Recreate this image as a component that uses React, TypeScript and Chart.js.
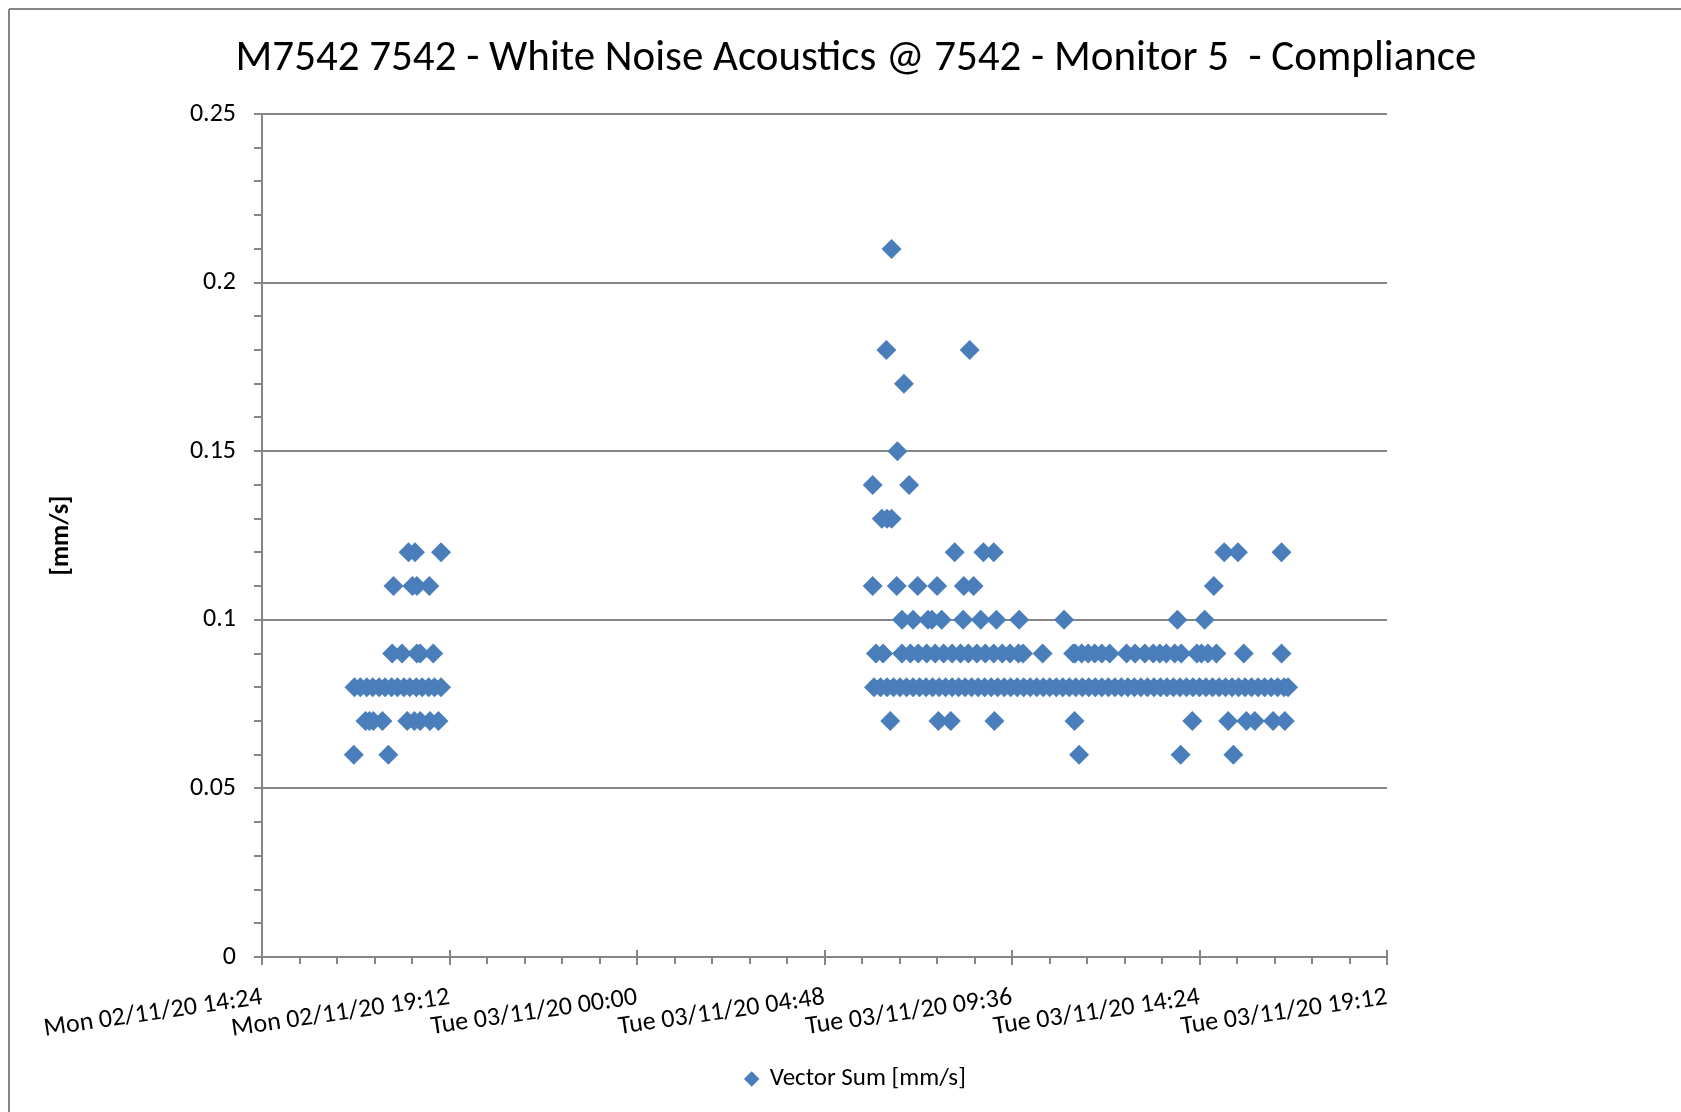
import React, { useEffect, useRef } from "react";
import { Chart, registerables } from "chart.js";

Chart.register(...registerables);

const chartTitle = "M7542 7542 - White Noise Acoustics @ 7542 - Monitor 5  - Compliance";
const seriesLabel = "Vector Sum [mm/s]";
const yAxisTitle = "[mm/s]";

// x axis: hours since Mon 02/11/20 00:00
const xTickValues = [14.4, 19.2, 24, 28.8, 33.6, 38.4, 43.2];
const xTickLabels = [
  "Mon 02/11/20 14:24",
  "Mon 02/11/20 19:12",
  "Tue 03/11/20 00:00",
  "Tue 03/11/20 04:48",
  "Tue 03/11/20 09:36",
  "Tue 03/11/20 14:24",
  "Tue 03/11/20 19:12",
];
const yTickValues = [0, 0.05, 0.1, 0.15, 0.2, 0.25];
const yTickLabels = ["0", "0.05", "0.1", "0.15", "0.2", "0.25"];

// reading times for each vector-sum level
const at006 = ["Mon 16:45", "Mon 17:38", "Tue 11:19", "Tue 13:55", "Tue 15:16"];
const at007 = [
  "Mon 17:03", "Mon 17:09", "Mon 17:15", "Mon 17:29", "Mon 18:07", "Mon 18:18", "Mon 18:27", "Mon 18:42", "Mon 18:55",
  "Tue 06:29", "Tue 07:43", "Tue 08:02", "Tue 09:09", "Tue 11:12", "Tue 14:13", "Tue 15:08",
  "Tue 15:36", "Tue 15:49", "Tue 16:17", "Tue 16:35",
];
const at008 = [
  "Mon 16:46", "Mon 16:55", "Mon 17:05", "Mon 17:14", "Mon 17:24", "Mon 17:33", "Mon 17:43", "Mon 17:52",
  "Mon 18:02", "Mon 18:11", "Mon 18:21", "Mon 18:30", "Mon 18:40", "Mon 18:49", "Mon 18:59",
  "Tue 06:04", "Tue 06:14", "Tue 06:24", "Tue 06:34", "Tue 06:44", "Tue 06:54",
  "Tue 07:04", "Tue 07:14", "Tue 07:24", "Tue 07:34", "Tue 07:44", "Tue 07:54",
  "Tue 08:04", "Tue 08:14", "Tue 08:24", "Tue 08:34", "Tue 08:44", "Tue 08:54",
  "Tue 09:04", "Tue 09:14", "Tue 09:24", "Tue 09:34", "Tue 09:44", "Tue 09:54",
  "Tue 10:04", "Tue 10:14", "Tue 10:24", "Tue 10:34", "Tue 10:44", "Tue 10:54",
  "Tue 11:04", "Tue 11:14", "Tue 11:24", "Tue 11:34", "Tue 11:44", "Tue 11:54",
  "Tue 12:04", "Tue 12:14", "Tue 12:24", "Tue 12:34", "Tue 12:44", "Tue 12:54",
  "Tue 13:04", "Tue 13:14", "Tue 13:24", "Tue 13:34", "Tue 13:44", "Tue 13:54",
  "Tue 14:04", "Tue 14:14", "Tue 14:24", "Tue 14:34", "Tue 14:44", "Tue 14:54",
  "Tue 15:04", "Tue 15:14", "Tue 15:24", "Tue 15:34", "Tue 15:44", "Tue 15:54",
  "Tue 16:04", "Tue 16:14", "Tue 16:24", "Tue 16:34", "Tue 16:40",
];
const at009 = [
  "Mon 17:44", "Mon 17:59", "Mon 18:22", "Mon 18:27", "Mon 18:47",
  "Tue 06:07", "Tue 06:18", "Tue 06:47", "Tue 07:00", "Tue 07:12", "Tue 07:25", "Tue 07:38", "Tue 07:51",
  "Tue 08:04", "Tue 08:17", "Tue 08:29", "Tue 08:42", "Tue 08:55", "Tue 09:08", "Tue 09:21", "Tue 09:33",
  "Tue 09:46", "Tue 09:53", "Tue 10:23", "Tue 11:10", "Tue 11:13", "Tue 11:23", "Tue 11:33", "Tue 11:43",
  "Tue 11:54", "Tue 12:06", "Tue 12:32", "Tue 12:45", "Tue 13:00", "Tue 13:13", "Tue 13:23", "Tue 13:33",
  "Tue 13:46", "Tue 13:56", "Tue 14:20", "Tue 14:27", "Tue 14:37", "Tue 14:50", "Tue 15:32", "Tue 16:30",
];
const at010 = [
  "Tue 06:47", "Tue 07:04", "Tue 07:27", "Tue 07:33", "Tue 07:48", "Tue 08:21", "Tue 08:48",
  "Tue 09:12", "Tue 09:47", "Tue 10:56", "Tue 13:50", "Tue 14:32",
];
const at011 = [
  "Mon 17:46", "Mon 18:15", "Mon 18:22", "Mon 18:41",
  "Tue 06:02", "Tue 06:39", "Tue 07:11", "Tue 07:41", "Tue 08:22", "Tue 08:37", "Tue 14:46",
];
const at012 = [
  "Mon 18:09", "Mon 18:19", "Mon 18:59",
  "Tue 08:08", "Tue 08:52", "Tue 09:08", "Tue 15:02", "Tue 15:23", "Tue 16:30",
];
const at013 = ["Tue 06:16", "Tue 06:24", "Tue 06:31"];
const at014 = ["Tue 06:02", "Tue 06:58"];
const at015 = ["Tue 06:40"];
const at017 = ["Tue 06:50"];
const at018 = ["Tue 06:23", "Tue 08:31"];
const at021 = ["Tue 06:31"];

const levelTable: [number, string[]][] = [
  [0.06, at006], [0.07, at007], [0.08, at008], [0.09, at009], [0.1, at010], [0.11, at011],
  [0.12, at012], [0.13, at013], [0.14, at014], [0.15, at015], [0.17, at017], [0.18, at018], [0.21, at021],
];

function toHours(s: string): number {
  const [day, hm] = s.split(" ");
  const [h, m] = hm.split(":").map(Number);
  return (day === "Tue" ? 24 : 0) + h + m / 60;
}

const FONT = "Carlito, Calibri, Lato, sans-serif";
const AXIS_COLOR = "#868686";
const POINT_COLOR = "#4a7ebb";

const decorPlugin = {
  id: "decor",
  beforeDraw(chart: any) {
    const ctx = chart.ctx;
    ctx.save();
    ctx.strokeStyle = AXIS_COLOR;
    ctx.lineWidth = 2;
    ctx.beginPath();
    ctx.moveTo(9, 9);
    ctx.lineTo(chart.width, 9);
    ctx.moveTo(9, 9);
    ctx.lineTo(9, chart.height);
    ctx.stroke();
    ctx.restore();
  },
  afterDraw(chart: any) {
    const { ctx, chartArea } = chart;
    const xs = chart.scales.x;
    const ys = chart.scales.y;
    ctx.save();
    ctx.strokeStyle = AXIS_COLOR;
    ctx.lineWidth = 2;
    ctx.beginPath();
    const xStep = (xs.max - xs.min) / 30;
    for (let i = 0; i <= 30; i++) {
      const px = Math.round(xs.getPixelForValue(xs.min + i * xStep));
      if (i % 5 === 0) {
        ctx.moveTo(px, chartArea.bottom - 7);
        ctx.lineTo(px, chartArea.bottom + 8);
      } else {
        ctx.moveTo(px, chartArea.bottom);
        ctx.lineTo(px, chartArea.bottom + 7);
      }
    }
    const yStep = (ys.max - ys.min) / 25;
    for (let i = 0; i <= 25; i++) {
      const py = Math.round(ys.getPixelForValue(ys.min + i * yStep));
      ctx.moveTo(chartArea.left - 8, py);
      ctx.lineTo(chartArea.left, py);
    }
    ctx.stroke();
    ctx.restore();
  },
};

export default function App() {
  const ref = useRef<HTMLCanvasElement | null>(null);
  useEffect(() => {
    if (!ref.current) return;
    const data: { x: number; y: number }[] = [];
    for (const [v, times] of levelTable) {
      for (const t of times) data.push({ x: toHours(t), y: v });
    }
    const chart = new Chart(ref.current, {
      type: "scatter",
      data: {
        datasets: [
          {
            label: seriesLabel,
            data,
            xAxisID: "x",
            yAxisID: "y",
            pointStyle: "rectRot",
            pointRadius: 10,
            pointHoverRadius: 10,
            pointBorderWidth: 0,
            backgroundColor: POINT_COLOR,
            borderColor: POINT_COLOR,
          },
        ],
      },
      options: {
        animation: false,
        responsive: false,
        events: [],
        layout: { padding: { left: 31, right: 0, top: 0, bottom: 10.5 } },
        plugins: {
          title: {
            display: true,
            text: chartTitle,
            color: "#000",
            font: { family: FONT, size: 43, weight: "normal", lineHeight: 1.2 },
            padding: { top: 33.4, bottom: 29 },
          },
          legend: {
            display: true,
            position: "bottom",
            labels: {
              usePointStyle: true,
              boxWidth: 11,
              boxHeight: 11,
              padding: 10,
              color: "#000",
              font: { family: FONT, size: 25 },
            },
          },
          tooltip: { enabled: false },
        },
        scales: {
          x: {
            type: "linear",
            position: "bottom",
            min: xTickValues[0],
            max: xTickValues[xTickValues.length - 1],
            afterBuildTicks: (s: any) => {
              s.ticks = xTickValues.map((v) => ({ value: v }));
            },
            afterFit: (s: any) => {
              s.height = 99.5;
            },
            grid: { display: false, drawTicks: false },
            border: { display: true, color: AXIS_COLOR, width: 2 },
            ticks: {
              autoSkip: false,
              minRotation: 8.3,
              maxRotation: 8.3,
              padding: 25,
              color: "#000",
              font: { family: FONT, size: 26 },
              callback: (_v: any, i: number) => xTickLabels[i],
            },
          },
          y: {
            type: "linear",
            position: "left",
            min: yTickValues[0],
            max: yTickValues[yTickValues.length - 1],
            afterBuildTicks: (s: any) => {
              s.ticks = yTickValues.map((v) => ({ value: v }));
            },
            afterFit: (s: any) => {
              s.width = 231;
            },
            grid: { display: true, color: AXIS_COLOR, lineWidth: 2, drawTicks: false },
            border: { display: true, color: AXIS_COLOR, width: 2 },
            title: {
              display: true,
              text: yAxisTitle,
              color: "#000",
              font: { family: FONT, size: 26, weight: "bold", lineHeight: 1.2 },
              padding: { top: 14.4, bottom: 0 },
            },
            ticks: {
              padding: 26,
              color: "#000",
              font: { family: FONT, size: 26 },
              callback: (_v: any, i: number) => yTickLabels[i],
            },
          },
          yPad: {
            type: "linear",
            position: "right",
            display: true,
            grid: { display: false, drawTicks: false },
            border: { display: false },
            ticks: { display: false },
            afterFit: (s: any) => {
              s.width = 294;
            },
          },
        },
      },
      plugins: [decorPlugin],
    } as any);
    return () => chart.destroy();
  }, []);
  return (
    <div style={{ position: "fixed", left: 0, top: 0, width: 1681, height: 1112, background: "#fff" }}>
      <canvas ref={ref} width={1681} height={1112} style={{ width: 1681, height: 1112, display: "block" }} />
    </div>
  );
}
